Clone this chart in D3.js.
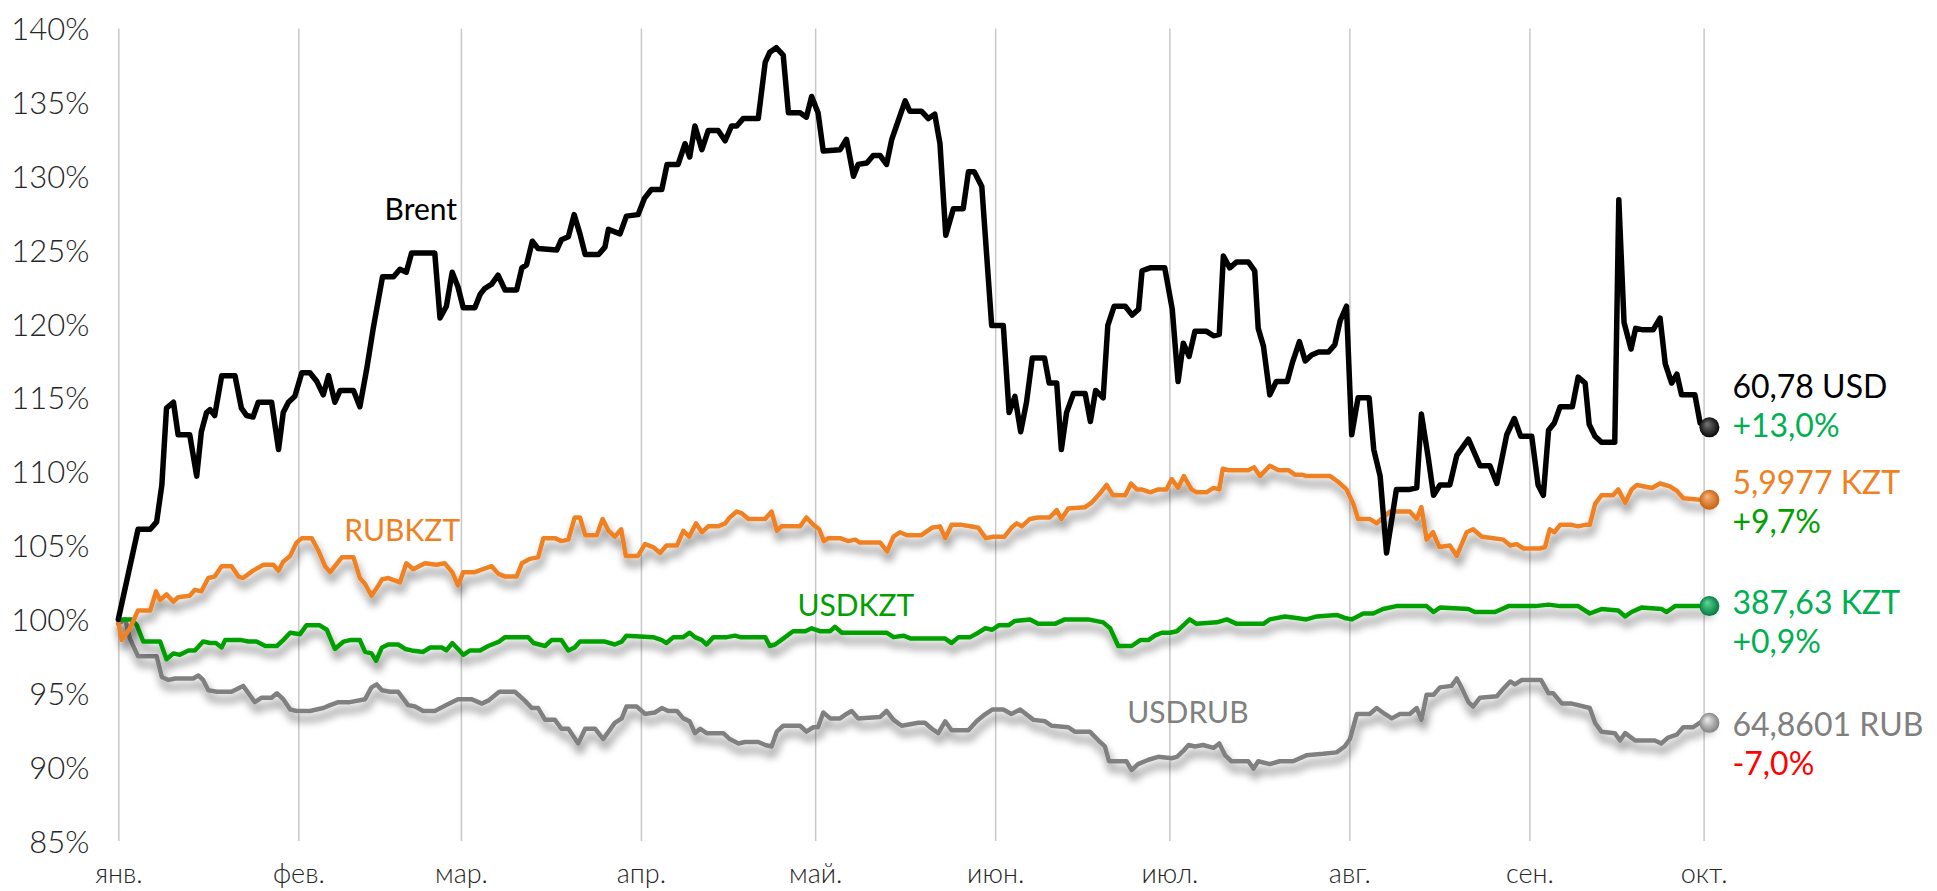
<!DOCTYPE html>
<html>
<head>
<meta charset="utf-8">
<script src="https://cdn.jsdelivr.net/npm/d3@7"></script>
<style>
  html, body { margin: 0; padding: 0; background: #ffffff; }
  svg { display: block; font-family: Lato, "Open Sans", sans-serif; }
</style>
</head>
<body>
<svg id="chart" width="1937" height="891"></svg>
<script>
// ---- data -------------------------------------------------------------
// Month tick labels (1st of each month, 2019)
const monthLabels = ["янв.", "фев.", "мар.", "апр.", "май.", "июн.", "июл.", "авг.", "сен.", "окт."];
// Y axis ticks, % of the 1 January level
const yTicks = [85, 90, 95, 100, 105, 110, 115, 120, 125, 130, 135, 140];

const seriesNames = ["Brent", "RUBKZT", "USDKZT", "USDRUB"];
const lastQuotes  = ["60,78 USD", "5,9977 KZT", "387,63 KZT", "64,8601 RUB"];
const ytdChanges  = ["+13,0%", "+9,7%", "+0,9%", "-7,0%"];

// [days since 1 Jan 2019, level in % of 1 Jan]
const brent = [
  [0,100.0],[3.4,106.1],[5.5,106.1],[6.6,106.6],[7.5,109.1],[8.3,114.3],[9.5,114.7],[10.3,112.5],
  [12.3,112.5],[13.5,109.7],[14.3,112.7],[15.2,114.0],[15.8,114.2],[16.6,113.8],[17.8,116.5],[20.1,116.5],
  [21.2,114.3],[22.1,113.8],[23.2,113.7],[24.1,114.7],[26.4,114.7],[27.6,111.5],[28.4,114.0],[29.3,114.7],
  [30.4,115.1],[31.6,116.7],[33.0,116.7],[34.2,116.1],[35.3,115.2],[36.2,116.5],[37.3,114.7],[38.2,115.5],
  [40.5,115.5],[41.6,114.4],[42.8,117.0],[43.9,119.7],[45.5,123.2],[47.4,123.2],[48.5,123.7],[49.6,123.5],
  [50.5,124.8],[54.5,124.8],[55.4,120.4],[56.5,121.2],[57.5,123.5],[58.5,122.5],[59.4,121.1],[61.4,121.1],
  [62.3,122.0],[63.1,122.4],[64.3,122.7],[65.4,123.3],[66.6,122.3],[68.6,122.3],[69.5,123.8],[70.3,124.0],
  [71.3,125.6],[72.3,125.1],[75.5,125.0],[76.3,125.7],[77.5,125.9],[78.5,127.4],[79.5,126.1],[80.4,124.7],
  [82.7,124.7],[83.8,125.2],[84.4,126.4],[86.4,126.1],[87.5,127.3],[89.5,127.4],[90.6,128.5],[91.8,129.1],
  [93.6,129.1],[94.5,130.8],[96.4,130.8],[97.6,132.2],[98.4,131.3],[99.3,133.4],[100.5,131.8],[101.6,133.1],
  [103.3,133.1],[104.5,132.4],[105.6,133.4],[106.5,133.4],[107.6,133.9],[110.2,133.9],[111.4,137.7],[112.2,138.4],
  [113.3,138.7],[114.5,138.2],[115.4,134.3],[117.4,134.3],[118.5,134.0],[119.4,135.4],[120.5,134.3],[121.4,131.7],
  [124.3,131.8],[125.4,132.5],[126.6,130.0],[127.4,130.8],[128.9,130.9],[130.0,131.4],[131.2,131.4],[132.3,130.8],
  [133.2,132.5],[134.0,133.4],[135.5,135.1],[136.3,134.4],[138.3,134.4],[139.5,133.9],[140.6,134.2],[141.5,132.2],
  [142.5,126.0],[143.8,127.8],[145.5,127.8],[146.4,130.3],[147.4,130.3],[148.7,129.3],[150.4,119.9],[152.4,119.9],
  [153.4,114.0],[154.4,115.1],[155.4,112.7],[156.4,114.7],[157.4,117.7],[159.5,117.7],[160.3,116.0],[161.6,116.0],
  [162.4,111.5],[163.3,114.0],[164.5,115.3],[166.5,115.3],[167.4,113.4],[168.3,115.5],[169.6,115.0],[170.4,119.9],
  [171.5,121.2],[173.4,121.2],[174.6,120.6],[175.7,121.0],[176.3,123.6],[177.7,123.8],[180.2,123.8],[181.5,121.0],
  [182.5,116.1],[183.4,118.7],[184.4,117.8],[185.4,119.5],[187.4,119.5],[188.6,119.2],[189.6,119.3],[190.3,124.6],
  [191.4,123.8],[192.6,124.2],[194.6,124.2],[195.7,123.6],[196.3,119.7],[197.2,118.5],[198.3,115.2],[199.4,116.1],
  [201.3,116.1],[202.2,117.4],[203.4,118.8],[204.4,117.5],[205.5,117.9],[206.7,118.1],[208.4,118.1],[209.5,118.6],
  [210.4,120.2],[211.5,121.2],[212.4,112.5],[213.5,115.0],[215.4,115.0],[216.2,111.5],[217.3,109.7],[218.4,104.5],
  [220.1,108.8],[222.4,108.8],[223.6,108.9],[224.4,113.9],[225.6,110.9],[226.5,108.4],[227.6,109.1],[229.3,109.1],
  [230.5,111.1],[232.5,112.2],[234.5,110.4],[236.2,110.4],[237.4,109.2],[239.1,112.5],[240.4,113.6],[241.5,112.4],
  [243.4,112.4],[244.5,109.1],[245.4,108.4],[246.3,112.8],[247.3,113.3],[248.3,114.4],[250.4,114.4],[251.4,116.4],
  [252.6,116.0],[253.3,113.2],[254.3,112.4],[255.4,112.0],[257.7,112.0],[258.4,128.4],[259.3,120.1],[260.5,118.3],
  [261.3,119.7],[262.6,119.6],[264.3,119.6],[265.5,120.4],[266.4,117.3],[267.5,116.0],[268.4,116.6],[269.2,115.2],
  [271.5,115.2],[272.4,113.3],[274,113.0]
];

const rubkzt = [
  [0,99.8],[0.6,98.6],[2.0,99.4],[3.4,100.6],[5.5,100.6],[6.5,101.9],[7.2,101.3],[8.3,101.7],[9.5,101.2],
  [10.3,101.5],[12.3,101.6],[13.2,102.0],[14.3,101.9],[15.5,102.8],[16.6,102.9],[17.8,103.6],[19.5,103.6],
  [20.7,102.9],[21.5,102.8],[23.2,103.3],[25.0,103.7],[26.7,103.7],[27.6,103.3],[28.4,103.9],[29.6,104.3],
  [30.7,105.2],[31.6,105.5],[33.3,105.5],[34.4,104.7],[35.6,103.6],[36.5,103.2],[37.3,103.6],[38.5,104.2],
  [40.5,104.2],[41.6,102.8],[42.5,102.4],[43.6,101.6],[44.8,102.3],[45.4,102.7],[46.5,102.8],[48.5,102.5],
  [49.6,103.8],[50.8,103.4],[52.8,103.8],[54.8,103.7],[56.2,103.8],[57.5,103.2],[58.5,102.3],[59.4,103.2],
  [61.4,103.2],[62.8,103.4],[64.3,103.6],[65.4,103.1],[66.6,102.9],[68.6,102.9],[69.5,103.8],[70.9,104.1],
  [72.3,104.2],[73.2,105.5],[75.2,105.5],[76.3,105.3],[77.5,105.4],[78.6,106.9],[79.5,106.9],[80.4,105.7],
  [82.4,105.7],[83.4,106.8],[84.4,106.0],[85.5,105.6],[86.6,106.1],[87.4,104.3],[89.5,104.3],[90.7,105.1],
  [92.1,104.9],[93.3,104.5],[94.4,105.0],[96.2,105.0],[97.3,106.0],[98.3,105.6],[99.5,106.5],[100.5,105.9],
  [101.6,106.3],[103.3,106.3],[104.5,106.5],[105.3,106.9],[106.5,107.3],[107.3,107.2],[108.5,106.8],[111.4,106.8],
  [112.5,107.3],[113.4,106.0],[114.2,106.3],[117.4,106.3],[118.5,106.9],[119.7,106.4],[120.7,106.1],[121.5,105.3],
  [122.3,105.5],[124.3,105.5],[125.7,105.3],[126.9,105.4],[127.7,105.2],[131.2,105.2],[132.4,104.6],[133.5,105.6],
  [134.6,105.9],[135.8,105.7],[138.3,105.7],[140.1,106.2],[141.5,106.3],[142.4,105.5],[143.5,106.4],[145.2,106.4],
  [146.7,106.3],[148.1,106.2],[149.4,105.5],[150.7,105.6],[152.6,105.6],[153.8,106.2],[154.7,106.5],[155.6,106.3],
  [157.0,106.8],[158.4,106.9],[160.4,106.9],[161.6,107.4],[162.4,106.8],[163.6,107.5],[166.5,107.6],[167.6,107.9],
  [169.0,108.5],[170.2,109.1],[171.3,108.4],[173.4,108.4],[174.4,109.2],[175.4,108.8],[176.2,108.8],[177.7,108.6],
  [179.1,108.8],[180.5,108.8],[181.4,109.5],[182.5,108.9],[183.5,109.7],[184.8,108.8],[185.7,108.6],[187.4,108.6],
  [188.6,108.9],[189.6,108.8],[190.2,110.2],[191.2,110.1],[194.6,110.1],[195.6,110.3],[196.6,109.7],[198.3,110.4],
  [199.8,110.1],[201.5,110.1],[202.6,109.8],[203.8,109.8],[204.6,109.7],[208.7,109.7],[210.1,109.3],[211.5,108.8],
  [212.7,107.8],[213.5,106.8],[215.5,106.8],[216.7,106.5],[217.8,106.9],[219.0,107.3],[222.4,107.3],[223.6,106.8],
  [224.4,107.6],[225.3,105.4],[226.4,105.9],[227.5,104.9],[229.3,105.0],[230.5,104.3],[232.2,105.9],[233.3,106.1],
  [234.8,105.6],[236.8,105.5],[238.5,105.4],[239.7,105.0],[240.8,105.1],[242.0,104.8],[244.8,104.8],[245.7,104.9],
  [246.5,106.1],[247.3,105.9],[248.3,106.4],[250.3,106.4],[251.4,106.3],[252.6,106.4],[253.4,106.4],[254.3,107.8],
  [255.4,108.4],[257.4,108.4],[258.3,108.8],[259.5,107.9],[260.6,108.8],[261.5,109.1],[264.1,108.9],[265.5,109.2],
  [267.2,109.0],[268.4,108.7],[269.5,108.2],[272.4,108.1],[274,108.1]
];

const usdkzt = [
  [0,100.0],[2.3,100.0],[3.2,99.6],[4.3,98.5],[7.2,98.5],[8.3,97.3],[9.5,97.7],[10.6,97.6],[12.1,97.9],
  [13.2,97.9],[14.6,98.5],[15.8,98.4],[16.8,98.4],[17.8,98.1],[18.4,98.6],[21.2,98.6],[22.4,98.5],[23.8,98.5],
  [25.3,98.2],[27.3,98.2],[28.4,98.6],[29.6,99.1],[31.3,99.0],[32.4,99.6],[34.7,99.6],[35.9,99.3],[37.3,98.0],
  [38.8,98.5],[39.9,98.6],[41.6,98.6],[42.5,97.8],[43.6,97.7],[44.4,97.2],[45.4,98.1],[46.5,98.3],[48.2,98.3],
  [49.4,98.0],[50.5,97.9],[52.5,97.8],[53.7,98.1],[55.7,98.1],[56.5,97.9],[57.5,98.4],[58.5,98.0],[59.4,97.6],
  [60.6,97.9],[62.3,97.9],[63.7,98.2],[65.6,98.5],[66.6,98.8],[70.6,98.8],[71.5,98.4],[73.5,98.2],[74.6,98.6],
  [76.3,98.6],[77.5,97.9],[78.6,98.1],[79.5,98.5],[83.8,98.5],[85.5,98.3],[86.7,98.5],[87.5,98.9],[92.1,98.8],
  [93.6,98.6],[94.4,98.4],[95.6,98.8],[97.3,98.8],[98.4,99.1],[99.3,98.8],[100.5,98.6],[101.3,98.3],[102.5,98.8],
  [104.8,98.8],[106.2,98.9],[107.1,98.8],[111.4,98.8],[112.2,98.2],[113.1,98.3],[114.5,98.7],[116.2,99.2],
  [118.3,99.2],[119.4,99.4],[120.8,99.2],[122.6,99.2],[123.4,99.5],[124.6,99.1],[132.3,99.1],[133.5,98.8],
  [135.2,98.9],[136.5,98.7],[142.4,98.7],[143.5,98.4],[144.7,98.8],[146.7,98.8],[148.1,99.1],[149.3,99.4],
  [150.5,99.3],[151.6,99.6],[153.3,99.6],[154.4,99.9],[157.0,100.0],[158.4,99.7],[161.3,99.7],[163.0,100.0],
  [167.0,100.0],[169.6,99.8],[170.8,99.4],[172.2,98.2],[174.5,98.2],[176.0,98.6],[177.4,98.6],[178.5,98.9],
  [179.7,99.1],[181.1,99.1],[182.3,99.2],[183.4,99.6],[184.5,100.0],[185.7,99.7],[189.2,99.8],[190.9,100.0],
  [192.6,99.7],[197.2,99.7],[198.3,100.0],[200.9,100.2],[202.9,100.1],[204.6,100.0],[206.4,100.2],[209.8,100.3],
  [211.2,100.1],[212.4,100.0],[214.4,100.4],[216.1,100.4],[217.8,100.7],[220.1,100.9],[225.3,100.9],[226.5,100.5],
  [227.6,100.8],[232.5,100.7],[233.6,100.5],[237.1,100.5],[239.4,100.9],[244.0,100.9],[246.3,101.0],[248.3,100.9],
  [251.4,100.9],[253.4,100.4],[255.4,100.7],[258.3,100.6],[259.5,100.2],[260.6,100.5],[262.3,100.8],[265.8,100.7],
  [266.6,100.5],[268.1,100.9],[274,100.9]
];

const usdrub = [
  [0,99.7],[1.2,100.0],[2.0,98.7],[3.4,97.5],[6.6,97.5],[7.5,96.1],[8.6,95.9],[9.8,96.0],[12.9,96.0],
  [13.8,96.2],[14.6,95.9],[15.5,95.2],[17.0,95.1],[19.5,95.1],[21.5,95.5],[22.6,94.9],[23.5,94.4],[24.7,94.7],
  [26.4,94.7],[27.3,95.0],[28.4,94.6],[29.6,93.9],[30.7,93.8],[33.0,93.8],[35.3,94.0],[36.5,94.2],[37.9,94.4],
  [39.9,94.4],[42.5,94.6],[43.6,95.4],[44.5,95.6],[45.4,95.2],[46.8,95.1],[48.2,95.1],[49.9,94.2],[51.1,94.1],
  [52.5,93.8],[54.5,93.8],[56.5,94.2],[58.5,94.6],[60.8,94.6],[62.6,94.3],[63.7,94.5],[65.6,95.1],[68.3,95.1],
  [70.0,94.5],[71.2,94.0],[72.3,94.0],[73.5,93.2],[75.2,93.2],[76.3,92.6],[77.5,92.6],[79.2,91.6],[80.4,92.6],
  [82.1,92.6],[83.5,91.9],[85.5,93.0],[86.7,93.3],[87.5,94.1],[89.3,94.1],[90.7,93.6],[92.4,93.7],[93.6,94.0],
  [94.7,93.8],[96.2,93.8],[97.3,93.3],[98.4,93.1],[99.3,92.3],[100.2,92.6],[101.3,92.3],[104.2,92.3],[105.3,91.9],
  [106.8,91.6],[107.9,91.7],[110.2,91.7],[111.4,91.5],[112.5,91.4],[113.4,92.4],[114.5,92.8],[117.4,92.8],
  [118.5,92.4],[119.7,92.7],[120.5,92.7],[121.4,93.7],[122.6,93.3],[124.3,93.3],[125.4,93.6],[126.3,93.8],
  [127.4,93.3],[131.2,93.4],[132.3,93.8],[133.5,93.2],[134.9,92.8],[137.8,93.0],[138.9,93.0],[140.1,92.6],
  [141.2,92.3],[142.4,93.1],[143.5,92.5],[146.4,92.5],[147.8,93.1],[149.0,93.5],[150.5,93.9],[152.4,93.9],
  [153.8,93.6],[155.3,93.9],[157.6,93.2],[159.6,93.1],[160.7,92.8],[163.6,92.7],[164.7,92.4],[167.3,92.4],
  [168.8,91.8],[169.9,91.4],[170.6,90.4],[173.6,90.4],[174.5,89.8],[175.6,90.2],[177.4,90.5],[179.1,90.7],
  [181.4,90.6],[182.3,90.7],[183.4,91.1],[184.3,91.5],[185.4,91.4],[186.8,91.5],[188.6,91.3],[189.6,91.6],
  [190.6,90.8],[191.7,90.4],[194.6,90.4],[195.5,89.9],[196.3,90.4],[198.3,90.2],[200.0,90.4],[202.3,90.4],
  [204.6,90.8],[207.5,90.9],[209.8,91.0],[211.2,91.4],[212.1,91.9],[213.3,93.6],[215.5,93.6],[216.7,94.0],
  [218.1,93.6],[219.3,93.3],[220.7,93.6],[222.4,93.6],[223.6,94.0],[224.4,93.2],[225.3,94.9],[226.5,94.9],
  [227.6,95.4],[229.6,95.5],[230.5,96.0],[231.3,95.4],[232.5,94.4],[233.3,94.1],[234.5,94.7],[237.4,94.8],
  [238.5,95.3],[239.7,95.8],[240.5,95.6],[241.7,95.9],[245.0,95.9],[246.3,95.0],[247.1,95.0],[248.6,94.3],
  [250.3,94.3],[253.4,94.0],[254.3,93.0],[255.4,92.4],[257.7,92.3],[258.6,91.8],[259.5,92.3],[261.2,91.8],
  [264.6,91.8],[265.7,91.6],[266.9,92.0],[268.4,92.2],[269.5,92.7],[271.2,92.7],[272.7,93.1],[274,93.0]
];

// ---- layout & styles --------------------------------------------------
const W = 1937, H = 891;
const plot = { left: 118.3, right: 1703.6, top: 28.5, bottom: 841 };
const DAY = 864e5;
const t0 = Date.UTC(2019, 0, 1);
const toDate = d => new Date(t0 + d * DAY);

const seriesData = [brent, rubkzt, usdkzt, usdrub];
const lineColors  = ["#000000", "#f08122", "#00a000", "#808080"];
const lineWidths  = [5.5, 4.5, 4.5, 4.5];
const quoteColors = ["#000000", "#f08122", "#00b050", "#808080"];
const changeColors = ["#00b050", "#00a000", "#00b050", "#ff0000"];
const dotColors = [["#777777", "#000000"], ["#f9b57a", "#c25a08"], ["#5ad896", "#00733a"], ["#eeeeee", "#787878"]];
// name label anchors in data space (day, %)
const nameAnchors = [[52.1, 127.8], [48.9, 106.05], [127.0, 100.97], [184.2, 93.75]];
const nameColors = ["#000000", "#f08122", "#00a000", "#808080"];
// vertical offset (px) of first line of end label from the end point
const endLabelDy = [-41, -17, -4, 2];

const svg = d3.select("#chart");

const x = d3.scaleUtc()
  .domain([new Date(t0), new Date(Date.UTC(2019, 9, 1))])
  .range([plot.left, plot.right]);
const y = d3.scaleLinear().domain([85, 140]).range([plot.bottom, plot.top]);

// defs: drop shadow and sphere gradients
const defs = svg.append("defs");
const f = defs.append("filter").attr("id", "shadow")
  .attr("filterUnits", "userSpaceOnUse")
  .attr("x", 0).attr("y", 0).attr("width", W).attr("height", H);
f.append("feGaussianBlur").attr("in", "SourceAlpha").attr("stdDeviation", 4.5).attr("result", "b");
f.append("feOffset").attr("in", "b").attr("dx", 2).attr("dy", 8).attr("result", "o");
f.append("feComponentTransfer").attr("in", "o").attr("result", "s")
  .append("feFuncA").attr("type", "linear").attr("slope", 0.5);
const fm = f.append("feMerge");
fm.append("feMergeNode").attr("in", "s");
fm.append("feMergeNode").attr("in", "SourceGraphic");

dotColors.forEach((c, i) => {
  const g = defs.append("radialGradient").attr("id", "sphere" + i)
    .attr("cx", "50%").attr("cy", "50%").attr("r", "55%")
    .attr("fx", "38%").attr("fy", "32%");
  g.append("stop").attr("offset", "0%").attr("stop-color", c[0]);
  g.append("stop").attr("offset", "100%").attr("stop-color", c[1]);
});

// vertical month gridlines + month labels
const monthTicks = d3.utcMonth.range(new Date(t0), new Date(Date.UTC(2019, 9, 2)));
const xAxis = d3.axisBottom(x)
  .tickValues(monthTicks)
  .tickSize(-(plot.bottom - plot.top))
  .tickFormat((d, i) => monthLabels[i]);
const gx = svg.append("g").attr("transform", `translate(0,${plot.bottom})`).call(xAxis);
gx.select(".domain").remove();
gx.selectAll(".tick line").attr("stroke", "#c8c8c8").attr("stroke-width", 1.5);
gx.selectAll(".tick text")
  .attr("y", 42).attr("dy", 0)
  .attr("fill", "#262626")
  .style("font-family", "Lato, sans-serif")
  .style("font-weight", 300)
  .style("font-size", "27px");

// y axis labels
const yAxis = d3.axisLeft(y).tickValues(yTicks).tickSize(0).tickFormat(d => d + "%");
const gy = svg.append("g").attr("transform", `translate(${plot.left},0)`).call(yAxis);
gy.select(".domain").remove();
gy.selectAll(".tick text")
  .attr("x", -29).attr("dy", "0.36em")
  .attr("fill", "#262626")
  .style("font-family", "Lato, sans-serif")
  .style("font-weight", 300)
  .style("font-size", "31px");

// lines (drawn so Brent ends up on top)
const line = d3.line().x(d => x(toDate(d[0]))).y(d => y(d[1]));
const order = [3, 2, 1, 0];
const gl = svg.append("g");
order.forEach(i => {
  gl.append("path")
    .datum(seriesData[i])
    .attr("d", line)
    .attr("fill", "none")
    .attr("stroke", lineColors[i])
    .attr("stroke-width", lineWidths[i])
    .attr("stroke-linejoin", "round")
    .attr("stroke-linecap", "round")
    .attr("filter", i === 0 ? null : "url(#shadow)");
});

// series names
seriesNames.forEach((name, i) => {
  svg.append("text")
    .attr("x", x(toDate(nameAnchors[i][0])))
    .attr("y", y(nameAnchors[i][1]))
    .attr("dy", "0.36em")
    .attr("text-anchor", "middle")
    .attr("fill", nameColors[i])
    .style("font-family", "Lato, sans-serif")
    .style("font-size", "30px")
    .text(name);
});

// end points and their labels
seriesData.forEach((s, i) => {
  const last = s[s.length - 1];
  const px = x(toDate(last[0])), py = y(last[1]);
  svg.append("circle")
    .attr("cx", px).attr("cy", py).attr("r", 10)
    .attr("fill", `url(#sphere${i})`);
  const ly = py + endLabelDy[i];
  svg.append("text")
    .attr("x", px + 23).attr("y", ly).attr("dy", "0.36em")
    .attr("fill", quoteColors[i])
    .style("font-family", "Lato, sans-serif")
    .style("font-size", "32px")
    .text(lastQuotes[i]);
  svg.append("text")
    .attr("x", px + 23).attr("y", ly + 39).attr("dy", "0.36em")
    .attr("fill", changeColors[i])
    .style("font-family", "Lato, sans-serif")
    .style("font-size", "32px")
    .text(ytdChanges[i]);
});
</script>
</body>
</html>
